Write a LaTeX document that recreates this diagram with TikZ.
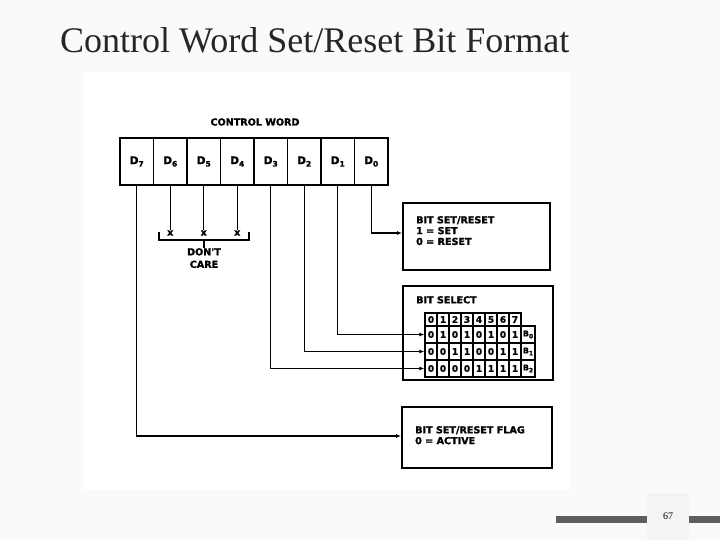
\documentclass[tikz,border=0pt]{standalone}
\usepackage{fontspec}
\setmainfont{Liberation Serif}
\newfontfamily\diagfont[FakeBold=1.5]{DejaVu Sans Bold}
\usetikzlibrary{arrows.meta,positioning,calc}
\definecolor{slidebg}{HTML}{FAFAFA}
\definecolor{footbar}{HTML}{5F5F5F}
\definecolor{pagebox}{HTML}{F4F4F4}
\definecolor{titlecol}{HTML}{262626}
\newcommand{\dsub}[1]{\raisebox{-2.5pt}{\fontsize{7.5}{7.5}\selectfont #1}}
\newcommand{\bsub}[1]{\raisebox{-2pt}{\fontsize{6}{6}\selectfont #1}}
\tikzset{
  cellbox/.style={draw, line width=1.3pt, minimum width=33.5pt, minimum height=47pt, inner sep=0pt, font=\diagfont\fontsize{10.5}{10.5}\selectfont},
  bitcell/.style={draw, line width=1.2pt, minimum width=12pt, minimum height=17pt, inner sep=0pt, font=\diagfont\fontsize{9}{9}\selectfont},
  headcell/.style={bitcell, minimum height=13pt},
  bcell/.style={bitcell, minimum width=14pt, font=\diagfont\fontsize{8}{8}\selectfont},
  infobox/.style={draw, line width=2pt, inner sep=0pt},
  boxtext/.style={anchor=north west, align=left, inner sep=0pt, font=\diagfont\fontsize{9.6}{10.8}\selectfont},
  label/.style={inner sep=0pt, font=\diagfont\fontsize{9.6}{12.5}\selectfont, align=center},
  conn/.style={line width=1.1pt},
  arr/.style={conn, -{Latex[length=5pt,width=4pt]}}
}
\begin{document}
\begin{tikzpicture}[x=1pt,y=-1pt]
\useasboundingbox (0,0) rectangle (720,540);
\fill[slidebg] (0,0) rectangle (720,540);
\fill[white] (84,72) rectangle (570,490);
% title
\node[anchor=base west, inner sep=0pt, text=titlecol, font=\fontsize{36}{36}\selectfont] (title) at (60,53) {Control Word Set/Reset Bit Format};
% footer
\fill[pagebox] (647,493) rectangle (689,540);
\fill[footbar] (556,516) rectangle (647,523);
\fill[footbar] (689,516) rectangle (720,523);
\node[inner sep=0pt, font=\fontsize{10}{10}\selectfont] (pg) at (668,516) {67};
% control word
\node[label] (cw) at (255,122) {CONTROL WORD};
\foreach \i/\n in {7/0,6/1,5/2,4/3,3/4,2/5,1/6,0/7} {
  \node[cellbox] (d\i) at ({120+33.5*(\n+0.5)},161.5) {D\dsub{\i}};
}
\draw[line width=2.4pt] (120,138) rectangle (388,185);
% boxes
\node[infobox, minimum width=147pt, minimum height=67pt] (box1) at (476.5,236.5) {};
\node[boxtext] (t1) at (416,216) {BIT SET/RESET\\1 = SET\\0 = RESET};
\node[infobox, minimum width=150pt, minimum height=94pt] (box2) at (478,333) {};
\node[boxtext] (t2) at (416,296) {BIT SELECT};
\node[infobox, minimum width=150pt, minimum height=61pt] (box3) at (477,437.5) {};
\node[boxtext] (t3) at (415,426) {BIT SET/RESET FLAG\\0 = ACTIVE};
% table
\foreach \c in {0,...,7} {
  \node[headcell] (h\c) at ({425+12*(\c+0.5)},319.5) {\c};
}
\foreach \r/\y/\bits in {1/334.5/{0,1,0,1,0,1,0,1},2/351.5/{0,0,1,1,0,0,1,1},3/368.5/{0,0,0,0,1,1,1,1}} {
  \foreach \b [count=\c from 0] in \bits {
    \node[bitcell] (r\r c\c) at ({425+12*(\c+0.5)},\y) {\b};
  }
}
\node[bcell] (rb1) at (528,334.5) {B\bsub{0}};
\node[bcell] (rb2) at (528,351.5) {B\bsub{1}};
\node[bcell] (rb3) at (528,368.5) {B\bsub{2}};
% don't care
\node[label] (x6) at (d6 |- 0,233) {x};
\node[label] (x5) at (d5 |- 0,233) {x};
\node[label] (x4) at (d4 |- 0,233) {x};
\node[label, anchor=north] (dc) at (204,248) {DON'T\\CARE};
\coordinate (bl) at (159,232);
\coordinate (br) at (249,232);
\draw[conn] (bl) |- (br |- 0,240) -- (br);
\draw[conn] (dc.north |- 0,240) -- (dc.north);
\draw[conn] (d6.south) -- (x6.north);
\draw[conn] (d5.south) -- (x5.north);
\draw[conn] (d4.south) -- (x4.north);
% connectors
\draw[arr] (d0.south) |- ([yshift=3.5pt]box1.west);
\draw[arr] (d1.south) |- (r1c0.west);
\draw[arr] (d2.south) |- (r2c0.west);
\draw[arr] (d3.south) |- (r3c0.west);
\draw[arr] (d7.south) |- ([yshift=1.5pt]box3.west);
\end{tikzpicture}
\end{document}
